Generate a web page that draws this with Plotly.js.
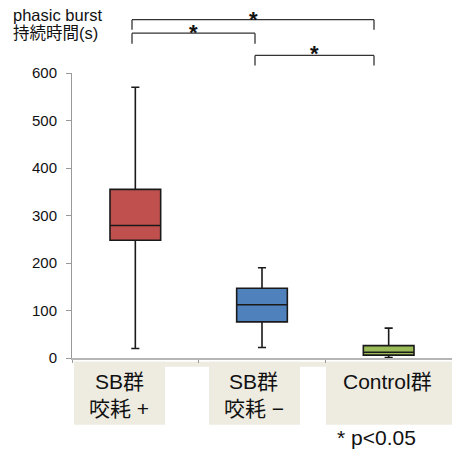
<!DOCTYPE html>
<html>
<head>
<meta charset="utf-8">
<script src="https://cdn.plot.ly/plotly-3.0.1.min.js"></script>
<style>html,body{margin:0;padding:0;background:#fff;}</style>
</head>
<body>
<div id="chart" style="width:452px;height:450px;"></div>
<script>
// ---- data ----
const categories = ['SB群 咬耗 +', 'SB群 咬耗 −', 'Control群'];
const labelLine1 = ['SB群', 'SB群', 'Control群'];
const labelLine2 = ['咬耗 +', '咬耗 −', ''];
const upperWhisker = [570, 190, 63];
const q3Values = [355, 147, 26];
const medianValues = [279, 112, 12];
const q1Values = [248, 76, 6];
const lowerWhisker = [20, 22, 1];
const boxColors = ['#C0504D', '#4F81BD', '#9BBB59'];
const yTicks = [0, 100, 200, 300, 400, 500, 600];
const titleLines = ['phasic burst', '持続時間(s)'];
const note = '* p<0.05';

const FONT = 'Liberation Sans, Arial, Noto Sans CJK JP, sans-serif';

const traces = categories.map((c, i) => ({
  type: 'box',
  x: [c],
  q1: [q1Values[i]],
  median: [medianValues[i]],
  q3: [q3Values[i]],
  lowerfence: [lowerWhisker[i]],
  upperfence: [upperWhisker[i]],
  width: 0.4,
  whiskerwidth: 0.16,
  fillcolor: boxColors[i],
  line: {color: '#1a1a1a', width: 1.6},
  boxpoints: false,
  hoverinfo: 'skip',
  showlegend: false
}));

// paper coordinate helpers (decoration positions)
const L = 72, R = 452, T = 73.3, B = 358.3;
const px = v => (v - L) / (R - L);
const py = v => (B - v) / (B - T);

const shapes = [];
const annotations = [];

// title (two lines, left aligned)
annotations.push({xref: 'paper', yref: 'paper', x: px(11), y: py(15), text: titleLines[0], showarrow: false,
  xanchor: 'left', yanchor: 'middle', font: {family: FONT, size: 16.5, color: '#111'}});
annotations.push({xref: 'paper', yref: 'paper', x: px(11), y: py(33), text: titleLines[1], showarrow: false,
  xanchor: 'left', yanchor: 'middle', font: {family: FONT, size: 16.5, color: '#111'}});

// significance brackets
function bracket(x0, x1, yTop, yBot) {
  const ln = {color: '#333', width: 1.3};
  shapes.push({type: 'line', xref: 'paper', yref: 'paper', x0: px(x0), x1: px(x1), y0: py(yTop), y1: py(yTop), line: ln});
  shapes.push({type: 'line', xref: 'paper', yref: 'paper', x0: px(x0), x1: px(x0), y0: py(yTop), y1: py(yBot), line: ln});
  shapes.push({type: 'line', xref: 'paper', yref: 'paper', x0: px(x1), x1: px(x1), y0: py(yTop), y1: py(yBot), line: ln});
}
bracket(132, 374, 20, 30);
bracket(132, 255, 33.5, 44);
bracket(255, 374, 55.7, 65.7);
[[253, 20], [193, 33], [314, 54]].forEach(([x, y]) => {
  annotations.push({xref: 'paper', yref: 'paper', x: px(x), y: py(y), text: '<b>*</b>', showarrow: false,
    xanchor: 'center', yanchor: 'middle', font: {family: FONT, size: 22, color: '#111'}});
});

// beige label boxes
const beige = '#EEEBE1';
const rect = (x0, x1, y0, y1) => shapes.push({type: 'rect', xref: 'paper', yref: 'paper',
  x0: px(x0), x1: px(x1), y0: py(y0), y1: py(y1), fillcolor: beige, line: {width: 0}, layer: 'below'});
rect(74, 452, 362, 367);
rect(74, 165, 362, 425);
rect(209, 300, 362, 425);
rect(326, 452, 362, 425);

const shifts = [-16, -8.5, -1];
categories.forEach((c, i) => {
  annotations.push({xref: 'x', yref: 'paper', x: c, y: py(382), xshift: shifts[i], text: labelLine1[i],
    showarrow: false, xanchor: 'center', yanchor: 'middle', font: {family: FONT, size: 21, color: '#111'}});
  if (labelLine2[i]) {
    annotations.push({xref: 'x', yref: 'paper', x: c, y: py(409), xshift: shifts[i], text: labelLine2[i],
      showarrow: false, xanchor: 'center', yanchor: 'middle', font: {family: FONT, size: 21, color: '#111'}});
  }
});

annotations.push({xref: 'paper', yref: 'paper', x: px(335), y: py(438), text: note, showarrow: false,
  xanchor: 'left', yanchor: 'middle', font: {family: FONT, size: 21, color: '#111'}});

const layout = {
  width: 452, height: 450,
  margin: {l: L, r: 0, t: T, b: 450 - B},
  paper_bgcolor: '#fff', plot_bgcolor: '#fff',
  font: {family: FONT, color: '#111'},
  boxmode: 'overlay',
  xaxis: {
    type: 'category', categoryarray: categories, range: [-0.5, 2.5],
    showticklabels: false, showgrid: false, zeroline: false,
    showline: true, linecolor: '#B5B5B5', linewidth: 2,
    ticks: 'outside', tickson: 'boundaries', ticklen: 3, tickcolor: '#999'
  },
  yaxis: {
    range: [0, 600], tickvals: yTicks, ticktext: yTicks.map(String),
    showgrid: false, zeroline: false,
    showline: true, linecolor: '#999', linewidth: 1,
    ticks: 'outside', ticklen: 5, tickcolor: '#999',
    tickfont: {family: FONT, size: 15, color: '#111'},
    ticklabelstandoff: 6
  },
  shapes, annotations,
  showlegend: false
};

Plotly.newPlot('chart', traces, layout, {displayModeBar: false, staticPlot: true});
</script>
</body>
</html>
